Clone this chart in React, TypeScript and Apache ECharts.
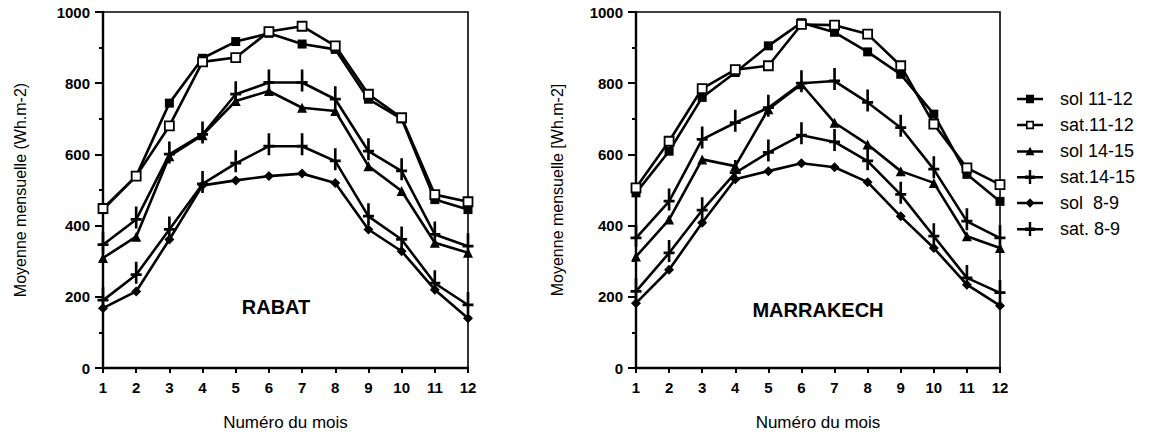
import React, { useEffect, useRef } from "react";
import * as echarts from "echarts";

const months = [1, 2, 3, 4, 5, 6, 7, 8, 9, 10, 11, 12];
const seriesNames = ["sol 11-12", "sat.11-12", "sol 14-15", "sat.14-15", "sol  8-9", "sat. 8-9"];

const rabatSol1112 = [445, 539, 744, 870, 917, 940, 910, 895, 755, 700, 473, 445];
const rabatSat1112 = [448, 539, 680, 860, 872, 945, 960, 905, 769, 703, 487, 467];
const rabatSol1415 = [309, 369, 595, 654, 750, 778, 731, 722, 567, 497, 352, 324];
const rabatSat1415 = [346, 417, 600, 656, 769, 802, 802, 755, 609, 553, 375, 342];
const rabatSol89 = [168, 215, 361, 513, 527, 539, 546, 520, 389, 328, 220, 140];
const rabatSat89 = [190, 262, 389, 517, 575, 623, 623, 581, 426, 361, 238, 177];

const marrSol1112 = [492, 609, 760, 830, 905, 970, 943, 888, 825, 713, 544, 468];
const marrSat1112 = [506, 637, 785, 838, 849, 965, 963, 938, 849, 685, 562, 515];
const marrSol1415 = [313, 417, 586, 567, 727, 797, 689, 628, 553, 520, 370, 337];
const marrSat1415 = [365, 468, 642, 689, 731, 800, 806, 746, 675, 558, 412, 365];
const marrSol89 = [182, 276, 408, 530, 553, 575, 564, 522, 426, 337, 234, 175];
const marrSat89 = [215, 323, 443, 548, 605, 654, 635, 581, 487, 370, 253, 211];

const yTitles = ["Moyenne mensuelle (Wh.m-2)", "Moyenne mensuelle [Wh.m-2]"];
const xTitle = "Numéro du mois";
const cityNames = ["RABAT", "MARRAKECH"];

const FONT = '"Liberation Sans", Arial, Helvetica, sans-serif';
const CROSS = "path://M0,12.5H10V15.5H0Z M3.8,0H6.2V24H3.8Z";

const LINE_L = "M0,6H9V8.4H0Z";
const LINE_R = "M17,6H26V8.4H17Z";
const LINE_FULL = "M0,6H26V8.4H0Z";
const legendIcons = [
  "path://" + LINE_FULL + " M9,3H17V11.4H9Z",
  "path://" + LINE_L + " " + LINE_R + " M9,3H17V11.4H9Z M10.6,4.6V9.8H15.4V4.6Z",
  "path://" + LINE_FULL + " M13,2.5L17.5,11H8.5Z",
  "path://" + LINE_FULL + " M11.8,0H14.2V14H11.8Z M8,5.5H18V8.9H8Z",
  "path://" + LINE_FULL + " M13,2.5L17.5,7.2L13,12L8.5,7.2Z",
  "path://" + LINE_FULL + " M11.8,0H14.2V14H11.8Z M8,5.5H18V8.9H8Z",
];

const styles = [
  { symbol: "rect", symbolSize: 9, item: { color: "#000" } },
  { symbol: "rect", symbolSize: 9, item: { color: "#fff", borderColor: "#000", borderWidth: 1.8 } },
  { symbol: "triangle", symbolSize: 10, item: { color: "#000" } },
  { symbol: CROSS, symbolSize: [11, 22], symbolOffset: [0, -2], item: { color: "#000" } },
  { symbol: "diamond", symbolSize: 10, item: { color: "#000" } },
  { symbol: CROSS, symbolSize: [11, 22], symbolOffset: [0, -2], item: { color: "#000" } },
];

const rabat = [rabatSol1112, rabatSat1112, rabatSol1415, rabatSat1415, rabatSol89, rabatSat89];
const marr = [marrSol1112, marrSat1112, marrSol1415, marrSat1415, marrSol89, marrSat89];

function buildSeries(sets: number[][], idx: number) {
  return sets.map((vals, i) => ({
    name: seriesNames[i],
    type: "line",
    xAxisIndex: idx,
    yAxisIndex: idx,
    data: months.map((m, k) => [m, vals[k]]),
    symbol: styles[i].symbol,
    symbolSize: styles[i].symbolSize,
    symbolOffset: (styles[i] as any).symbolOffset || [0, 0],
    showAllSymbol: true,
    itemStyle: styles[i].item,
    lineStyle: { color: "#000", width: 2.6 },
    z: i < 2 ? 4 : 3,
  }));
}

export default function App() {
  const ref = useRef<HTMLDivElement>(null);
  useEffect(() => {
    document.body.style.margin = "0";
    const chart = echarts.init(ref.current!, null, { renderer: "svg" });
    const grids = [
      { left: 103, top: 12, width: 365, height: 356 },
      { left: 636, top: 12, width: 364, height: 356 },
    ].map((g) => ({ ...g, show: true, borderColor: "#000", borderWidth: 1.6, backgroundColor: "transparent" }));

    const xAxes = [0, 1].map((i) => ({
      gridIndex: i,
      type: "value",
      min: 1,
      max: 12,
      interval: 1,
      axisLine: { show: true, onZero: false, lineStyle: { color: "#000", width: 2.4 } },
      axisTick: { show: true, length: 5, lineStyle: { color: "#000", width: 2 } },
      axisLabel: { color: "#000", fontSize: 15, fontWeight: "bold", margin: 12, fontFamily: FONT },
      splitLine: { show: false },
      name: xTitle,
      nameLocation: "middle",
      nameGap: 46,
      nameTextStyle: { color: "#000", fontSize: 17, fontFamily: FONT },
    }));

    const yAxes = [0, 1].map((i) => ({
      gridIndex: i,
      type: "value",
      min: 0,
      max: 1000,
      interval: 200,
      axisLine: { show: true, lineStyle: { color: "#000", width: 2.4 } },
      axisTick: { show: true, length: 8, lineStyle: { color: "#000", width: 2 } },
      minorTick: { show: true, splitNumber: 2, length: 4, lineStyle: { color: "#000", width: 2 } },
      axisLabel: {
        color: "#000",
        fontSize: 15,
        fontWeight: "bold",
        margin: 13,
        fontFamily: FONT,
        formatter: (v: number) => String(v),
      },
      splitLine: { show: false },
      minorSplitLine: { show: false },
      name: yTitles[i],
      nameLocation: "middle",
      nameGap: i === 0 ? 75 : 71,
      nameTextStyle: { color: "#000", fontSize: 16, fontFamily: FONT },
    }));

    chart.setOption({
      animation: false,
      backgroundColor: "#fff",
      grid: grids,
      xAxis: xAxes,
      yAxis: yAxes,
      legend: {
        orient: "vertical",
        left: 1012,
        top: 85,
        itemWidth: 26,
        itemHeight: 14,
        itemGap: 8,
        data: seriesNames.map((n, i) => ({
          name: n,
          icon: legendIcons[i],
          itemStyle: { color: "#000", borderWidth: 0 },
        })),
        textStyle: { color: "#000", fontSize: 18, fontFamily: FONT, padding: [0, 0, 0, 12] },
      },
      graphic: [
        {
          type: "text",
          x: 276,
          y: 307,
          style: { text: cityNames[0], font: `bold 20px ${FONT}`, fill: "#000", textAlign: "center", textVerticalAlign: "middle" },
        },
        {
          type: "text",
          x: 818,
          y: 310,
          style: { text: cityNames[1], font: `bold 20px ${FONT}`, fill: "#000", textAlign: "center", textVerticalAlign: "middle" },
        },
      ],
      series: [...buildSeries(rabat, 0), ...buildSeries(marr, 1)],
    });
    return () => chart.dispose();
  }, []);
  return <div ref={ref} style={{ width: 1162, height: 436 }} />;
}
